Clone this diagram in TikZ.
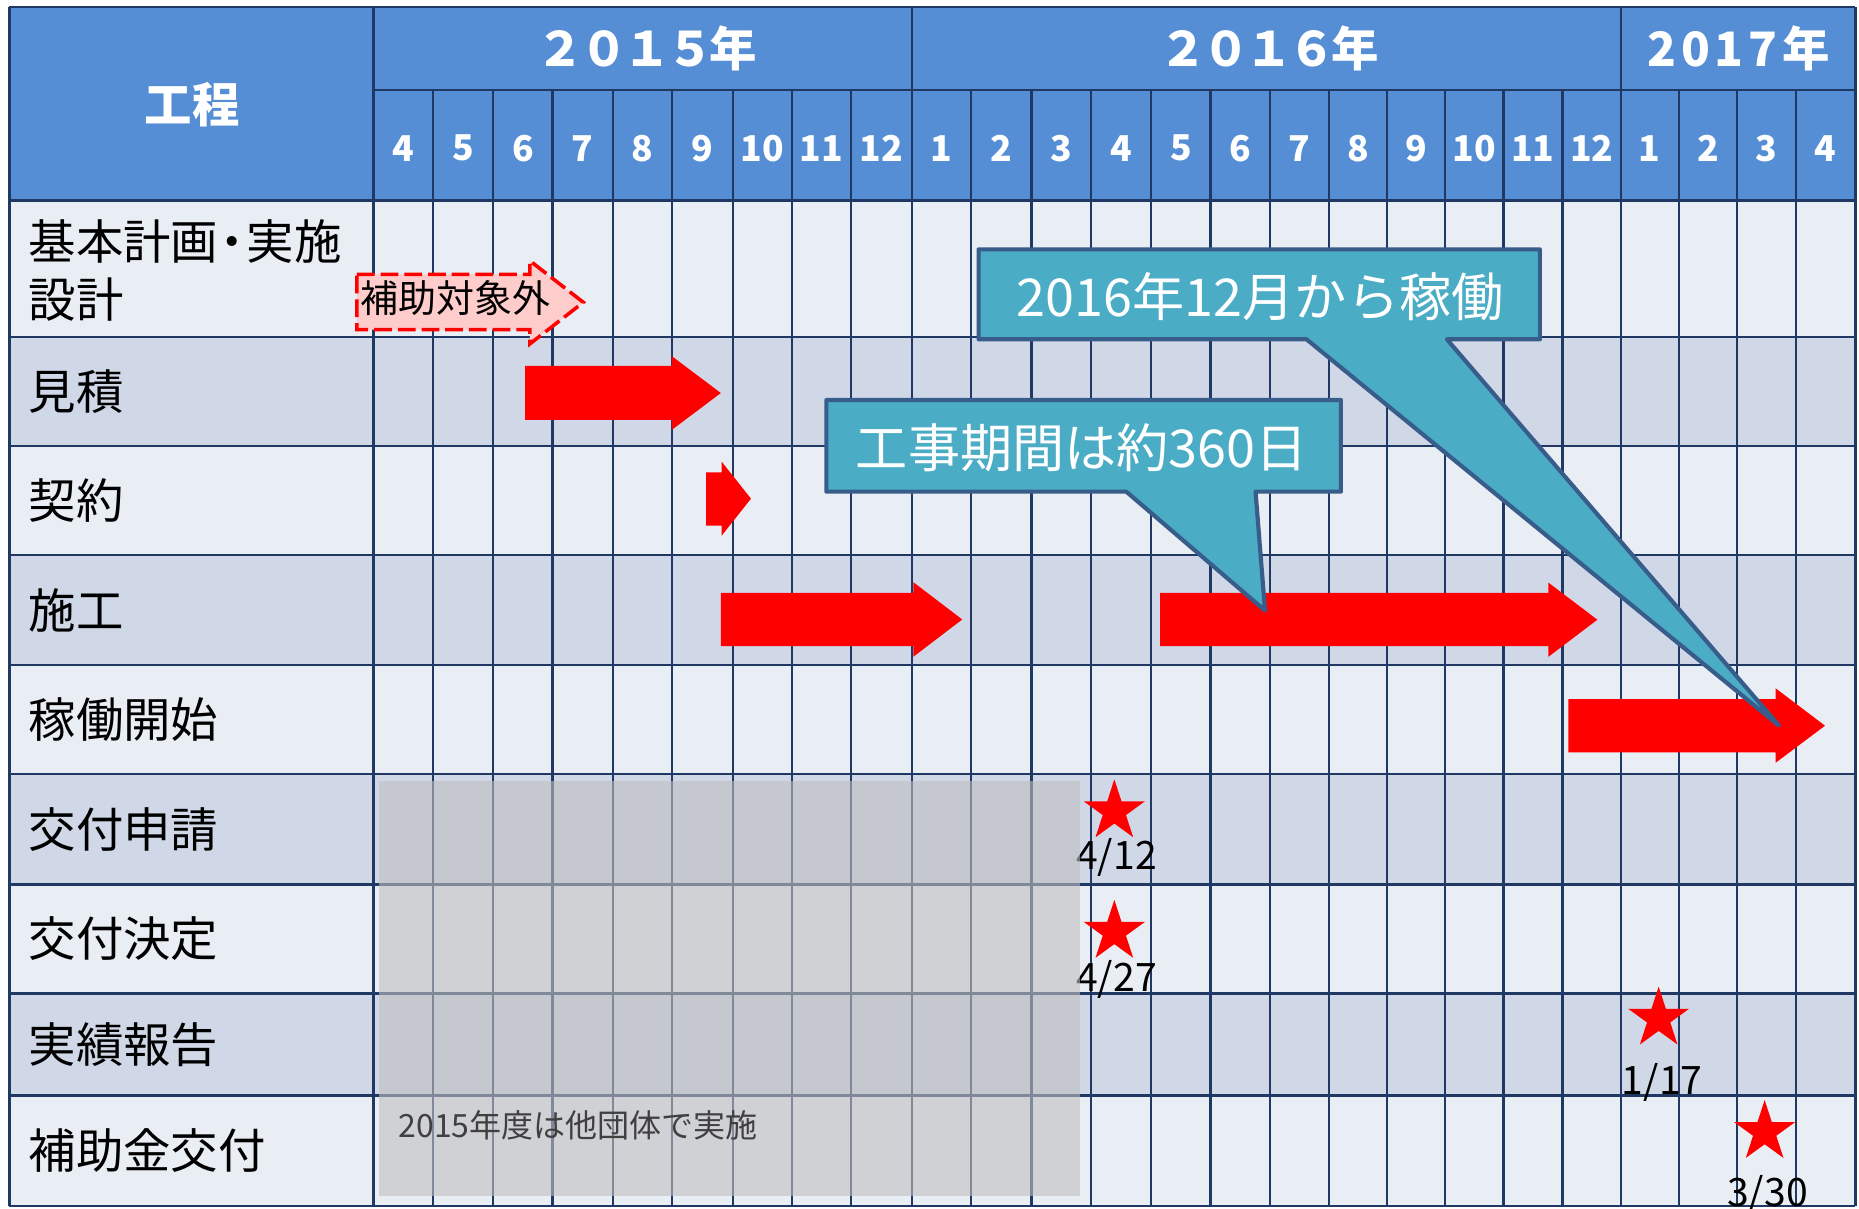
\documentclass[tikz,border=0pt]{standalone}
\usepackage{fontspec}
\setmainfont{Noto Sans CJK JP}
\usetikzlibrary{shapes.geometric}
\definecolor{hdr}{HTML}{558ED5}
\definecolor{rowA}{HTML}{E9EDF4}
\definecolor{rowB}{HTML}{D0D8E8}
\definecolor{gridc}{HTML}{1F3864}
\definecolor{callfill}{HTML}{4BACC6}
\definecolor{callline}{HTML}{385D8A}
\definecolor{pinkf}{HTML}{FFCCCC}
\definecolor{greyshade}{HTML}{BFBFBF}
\definecolor{notec}{HTML}{404040}
\begin{document}
\begin{tikzpicture}[x=1pt,y=-1pt,
  gridline/.style={draw=gridc, line width=2pt},
  bar/.style={fill=red, draw=none},
  callout/.style={fill=callfill, draw=callline, line width=3.5pt, line join=round},
  calltext/.style={font=\fontsize{44}{48}\selectfont, text=white, inner sep=0pt},
  rowlabel/.style={anchor=west, font=\fontsize{40}{49}\selectfont, inner sep=0pt, text=black, align=left},
  monthlabel/.style={font=\bfseries\fontsize{30}{30}\selectfont, text=white, inner sep=0pt},
  yearlabel/.style={font=\bfseries\fontsize{40}{40}\selectfont, text=white, inner sep=0pt},
  starmark/.style={star, star points=5, star point ratio=2.618, fill=red, draw=none, minimum size=54pt, inner sep=0pt},
  datelabel/.style={font=\fontsize{33}{33}\selectfont, text=black, inner sep=0pt, anchor=base},
]
\fill[white] (0,0) rectangle (1568,1019);
\useasboundingbox (0,0) rectangle (1568,1019);
% header and rows
\fill[hdr] (8,6) rectangle (1565,169);
\fill[rowA] (8,169) rectangle (1565,284);
\fill[rowB] (8,284) rectangle (1565,376);
\fill[rowA] (8,376) rectangle (1565,468);
\fill[rowB] (8,468) rectangle (1565,561);
\fill[rowA] (8,561) rectangle (1565,653);
\fill[rowB] (8,653) rectangle (1565,746);
\fill[rowA] (8,746) rectangle (1565,838);
\fill[rowB] (8,838) rectangle (1565,924);
\fill[rowA] (8,924) rectangle (1565,1017);
% grid
\foreach \y in {6,169,284,376,468,561,653,746,838,924,1017}
  \draw[gridline] (8,\y) -- (1565,\y);
\draw[gridline] (315,76) -- (1565,76);
\foreach \x in {8,315,769,1367,1565}
  \draw[gridline] (\x,6) -- (\x,1017);
\foreach \x in {365,416,466,517,567,618,668,718,819,870,920,971,1021,1071,1121,1170,1219,1268,1318,1416,1465,1515}
  \draw[gridline] (\x,76) -- (\x,1017);
% header texts
\node[yearlabel] (koutei) at (162,88) {工程};
\node[yearlabel] (y2015) at (545.5,41) {２\kern-3.7pt ０\kern-3.7pt １\kern-3.7pt ５\kern-3.7pt 年};
\node[yearlabel] (y2016) at (1070.5,41) {２\kern-3.7pt ０\kern-3.7pt １\kern-3.7pt ６\kern-3.7pt 年};
\node[yearlabel] (y2017) at (1466.5,41) {2\kern4pt 0\kern4pt 1\kern4pt 7\kern4pt 年};
\foreach \a/\b/\m [count=\i] in {315/365/4,365/416/5,416/466/6,466/517/7,517/567/8,567/618/9,618/668/10,668/718/11,718/769/12,
  769/819/1,819/870/2,870/920/3,920/971/4,971/1021/5,1021/1071/6,1071/1121/7,1121/1170/8,1170/1219/9,1219/1268/10,1268/1318/11,1318/1367/12,
  1367/1416/1,1416/1465/2,1465/1515/3,1515/1565/4}
  \node[monthlabel] (m\i) at ({(\a+\b)/2},125) {\m};
% row labels
\node[rowlabel] (r1) at (24,228.5) {基本計画\kern-8pt・\kern-8pt 実施\\設計};
\node[rowlabel] (r2) at (24,330) {見積};
\node[rowlabel] (r3) at (24,422) {契約};
\node[rowlabel] (r4) at (24,514.5) {施工};
\node[rowlabel] (r5) at (24,607) {稼働開始};
\node[rowlabel] (r6) at (24,699.5) {交付申請};
\node[rowlabel] (r7) at (24,792) {交付決定};
\node[rowlabel] (r8) at (24,881) {実績報告};
\node[rowlabel] (r9) at (24,970.5) {補助金交付};
% date labels (under the shaded area)
\node[datelabel] (d1) at (941.7,733.8) {4/12};
\node[datelabel] (d2) at (941.7,836.4) {4/27};
\node[datelabel] (d3) at (1402,922.8) {1/17};
\node[datelabel] (d4) at (1490.8,1018) {3/30};
% shaded area
\fill[fill=greyshade, fill opacity=0.6] (320,659) rectangle (911,1008.5);
\node[anchor=base west, inner sep=0pt, text=notec, font=\fontsize{27}{27}\selectfont] (note) at (336,959.3) {2015年度は他団体で実施};
% stars
\node[starmark] (s1) at (939.9,684.3) {};
\node[starmark] (s2) at (939.9,786) {};
\node[starmark] (s3) at (1399,859.2) {};
\node[starmark] (s4) at (1488.4,954.8) {};
% arrows
\draw[fill=pinkf, draw=red, line width=3pt, dash pattern=on 15pt off 5pt, line join=miter]
  (301,231.5) -- (447,231.5) -- (447,220) -- (492,255) -- (447,290) -- (447,278) -- (301,278) -- cycle;
\node[inner sep=0pt, text=black, font=\fontsize{32}{32}\selectfont] (hojo) at (384.4,251) {補助対象外};
\fill[bar] (443,308.7) -- (566.5,308.7) -- (566.5,300.3) -- (608,331.5) -- (566.5,362.7) -- (566.5,354.2) -- (443,354.2) -- cycle;
\fill[bar] (595.5,398.4) -- (608.7,398.4) -- (608.7,389.4) -- (633.4,420.6) -- (608.7,451.8) -- (608.7,443.4) -- (595.5,443.4) -- cycle;
\fill[bar] (608,500) -- (770.3,500) -- (770.3,491) -- (811.6,522.5) -- (770.3,554) -- (770.3,545) -- (608,545) -- cycle;
\fill[bar] (978.6,500) -- (1306,500) -- (1306,491.4) -- (1347.3,522.7) -- (1306,554) -- (1306,545) -- (978.6,545) -- cycle;
\fill[bar] (1322.8,589.6) -- (1497.7,589.6) -- (1497.7,580.6) -- (1539.3,612.1) -- (1497.7,643.3) -- (1497.7,634.6) -- (1322.8,634.6) -- cycle;
% callouts
\draw[callout] (825.4,210.3) -- (1298.8,210.3) -- (1298.8,286.2) -- (1220.4,286.2) -- (1500.5,612) -- (1102,286.2) -- (825.4,286.2) -- cycle;
\node[calltext] (c1) at (1063,250) {2016年12月から稼働};
\draw[callout] (697,337.4) -- (1131,337.4) -- (1131,414.7) -- (1059,414.7) -- (1067,515) -- (950,414.7) -- (697,414.7) -- cycle;
\node[calltext] (c2) at (912.5,378) {工事期間は約360日};
\end{tikzpicture}
\end{document}
